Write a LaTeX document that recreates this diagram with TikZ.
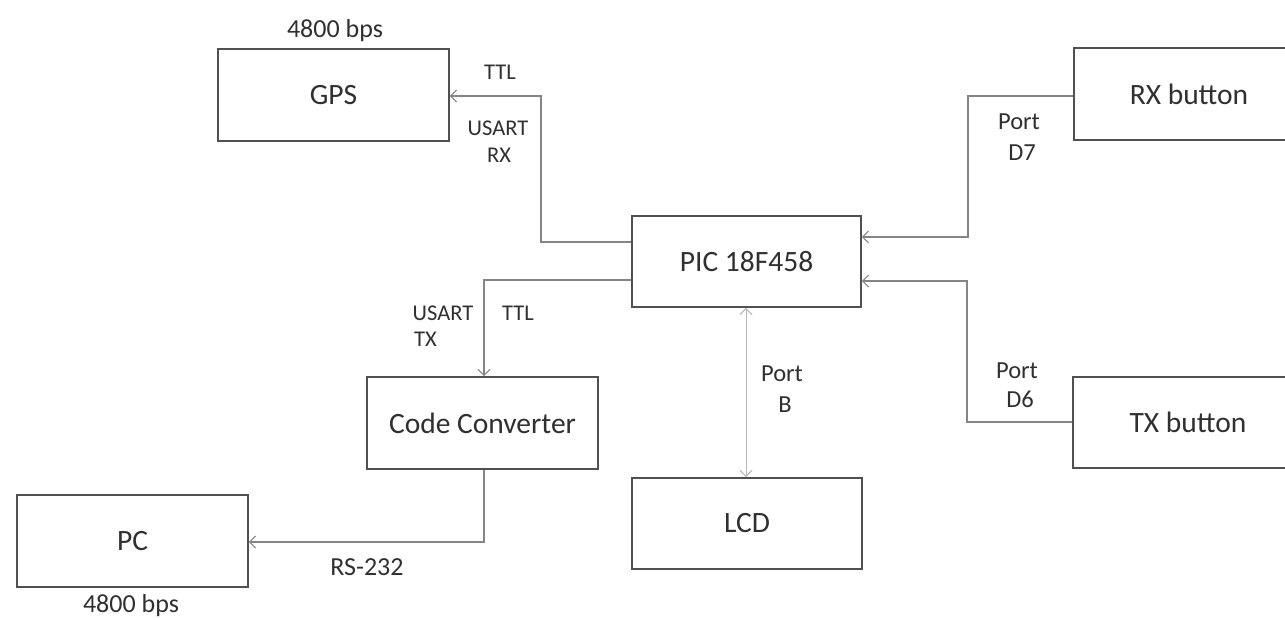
\documentclass[tikz,border=0pt]{standalone}
\usepackage{fontspec}
\setmainfont{Carlito}
\usetikzlibrary{arrows.meta}
\definecolor{boxcol}{HTML}{505050}
\definecolor{conncol}{HTML}{858585}
\definecolor{lcdcol}{HTML}{B8B8B8}
\definecolor{txtcol}{HTML}{303030}
\newcommand\mainsize{\fontsize{29.5}{34}\selectfont}
\newcommand\labsize{\fontsize{22.5}{26}\selectfont}
\newcommand\portsize{\fontsize{24.5}{28}\selectfont}
\newcommand\bpssize{\fontsize{26}{30}\selectfont}
\tikzset{
  blockbox/.style={draw=boxcol, line width=1.8pt, inner sep=0pt, text=txtcol, font=\mainsize},
  conn/.style={draw=conncol, line width=1.4pt, -{Straight Barb[length=6pt,width=12pt,line width=1pt]}},
  lcdconn/.style={draw=lcdcol, line width=1pt, {Straight Barb[length=6pt,width=12pt,line width=1pt]}-{Straight Barb[length=6pt,width=12pt,line width=1pt]}},
  lab/.style={inner sep=0pt, anchor=base, text=txtcol, font=\labsize},
  portlab/.style={inner sep=0pt, anchor=base, text=txtcol, font=\portsize},
  bpslab/.style={inner sep=0pt, anchor=base, text=txtcol, font=\bpssize}
}
\begin{document}
\begin{tikzpicture}[x=1pt, y=-1pt]
\useasboundingbox (0,0) rectangle (1285,619);
\clip (0,0) rectangle (1285,619);
\fill[white] (0,0) rectangle (1285,619);
% blocks
\node[blockbox, minimum width=231pt, minimum height=92pt] (GPS) at (333.5,95) {GPS};
\node[blockbox, minimum width=229pt, minimum height=91pt] (PIC) at (746.5,261.5) {PIC 18F458};
\node[blockbox, minimum width=231pt, minimum height=92pt] (CC) at (482.5,423) {Code Converter};
\node[blockbox, minimum width=231pt, minimum height=92pt] (PC) at (132.5,541) {PC};
\node[blockbox, minimum width=230pt, minimum height=91pt] (LCD) at (747,523.5) {LCD};
\node[blockbox, minimum width=230pt, minimum height=92pt] (RX) at (1189,94) {RX button};
\node[blockbox, minimum width=230pt, minimum height=91pt] (TX) at (1188,422.5) {TX button};
% helper coordinates
\coordinate (gk) at (541,242);
\coordinate (gt) at (541,96);
\coordinate (ck) at (484,280);
\coordinate (pk) at (484,542);
\coordinate (lk) at (746,0);
\coordinate (rt) at (968,96);
\coordinate (rk) at (968,237);
\coordinate (tt) at (967,422);
\coordinate (tk) at (967,281);
% connectors
\draw[conn] (PIC.west |- gk) -- (gk) -- (gt) -- (GPS.east |- gt);
\draw[conn] (PIC.west |- ck) -- (ck) -- (ck |- CC.north);
\draw[conn] (CC.south -| pk) -- (pk) -- (PC.east |- pk);
\draw[lcdconn] (PIC.south -| lk) -- (LCD.north -| lk);
\draw[conn] (RX.west |- rt) -- (rt) -- (rk) -- (PIC.east |- rk);
\draw[conn] (TX.west |- tt) -- (tt) -- (tk) -- (PIC.east |- tk);
% labels
\node[bpslab] (bpsgps) at (335,37) {4800 bps};
\node[lab] (ttl1) at (500,79) {TTL};
\node[lab] (usart1) at (498,135) {USART};
\node[lab] (rx1) at (499,162) {RX};
\node[lab] (usart2) at (443,320) {USART};
\node[lab, anchor=base west] (tx2) at (414,346) {TX};
\node[lab] (ttl2) at (518,320) {TTL};
\node[bpslab] (rs) at (367,575) {RS-232};
\node[bpslab] (bpspc) at (131,612) {4800 bps};
\node[portlab] (portb) at (782,381) {Port};
\node[portlab] (b) at (785,412) {B};
\node[portlab] (port7) at (1019,129) {Port};
\node[portlab] (d7) at (1022,160) {D7};
\node[portlab] (port6) at (1017,378) {Port};
\node[portlab] (d6) at (1020,407) {D6};
\end{tikzpicture}
\end{document}
